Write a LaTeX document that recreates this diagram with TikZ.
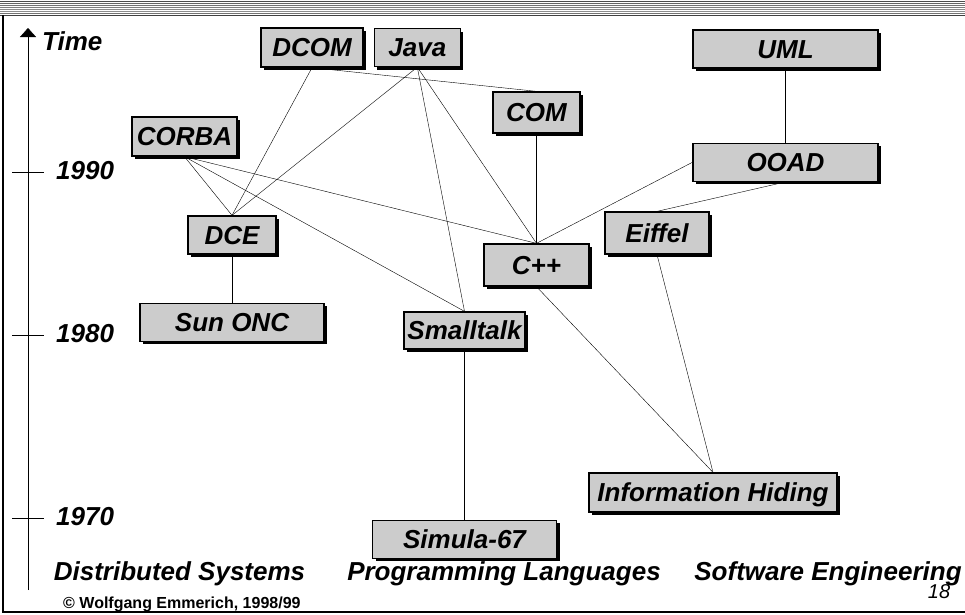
\documentclass[tikz,border=0pt]{standalone}
\usepackage{fontspec}
\setmainfont{Liberation Sans}
\usetikzlibrary{positioning,shadows,arrows.meta}
\tikzset{
x=1pt,
y=-1pt,
line width=1.2pt,
>={Triangle[width=16pt,length=9pt]},
every node/.style={inner sep=0pt},
}

\begin{document}
\begin{tikzpicture}
    [block/.style={draw, fill=black!20, line width=1.3pt,
        minimum height=38pt, text height=18.6pt, text depth=0pt,
        font=\bfseries\itshape\fontsize{26}{26}\selectfont,
        drop shadow={shadow xshift=3pt, shadow yshift=-3pt, fill=black, opacity=1}},
    heading/.style={anchor=base, font=\bfseries\itshape\fontsize{26}{26}\selectfont},
    yearlbl/.style={anchor=base west, font=\bfseries\itshape\fontsize{26}{26}\selectfont}
    ]

    \useasboundingbox (0,0) rectangle (965,614);

    \foreach \yy/\g in {1/70,3/60,5/55,7/50,9/45,11/45,13/55}
        \draw[black!\g, line width=0.9pt] (0,\yy) -- (965,\yy);
    \draw[black!75] (0,15) -- (965,15);
    \draw[line width=2pt] (3,15) -- (3,612) -- (965,612);

    \coordinate (axbot) at (28,590);
    \coordinate (axtop) at (28,28);
    \draw[->] (axbot) -- (axtop);
    \node [yearlbl] (time) at (42,50) {Time};

    \foreach \yr/\yy in {1990/172,1980/335,1970/518}
    {
        \draw (12,\yy) -- (44,\yy);
        \node [yearlbl] (y\yr) at (56,\yy+7) {\yr};
    }

    \node [block, minimum width=102pt, minimum height=39pt] (dcom) at (312,47.5) {DCOM};
    \node [block, minimum width=86pt] (java) [right=10pt of dcom] {Java};
    \node [block, minimum width=87pt, minimum height=41pt] (com) at (536.5,112.5) {COM};
    \node [block, minimum width=185pt] (uml) at (785.5,49) {UML};
    \node [block, minimum width=185pt] (ooad) [below=74pt of uml] {OOAD};
    \node [block, minimum width=105pt, minimum height=39pt] (corba) at (184.5,136.5) {CORBA};
    \node [block, minimum width=88pt] (dce) at (232,235) {DCE};
    \node [block, minimum width=184pt] (sunonc) [below=48pt of dce] {Sun ONC};
    \node [block, minimum width=121pt, minimum height=37pt] (smalltalk) at (464.5,330.5) {Smalltalk};
    \node [block, minimum width=105pt, minimum height=42pt] (cpp) at (536.5,265) {C++};
    \node [block, minimum width=104pt, minimum height=42pt] (eiffel) at (657,233) {Eiffel};
    \node [block, minimum width=248pt, minimum height=39pt] (infohiding) at (713,492.5) {Information Hiding};
    \node [block, minimum width=184pt] (simula) [below=170pt of smalltalk] {Simula-67};

    \draw (dcom.south) -- (dce.north);
    \draw (dcom.south) -- (com.north);
    \draw (java.south) -- (dce.north);
    \draw (java.south) -- (smalltalk.north);
    \draw (java.south) -- (cpp.north);
    \draw (corba.south) -- (dce.north);
    \draw (corba.south) -- (smalltalk.north);
    \draw (corba.south) -- (cpp.north);
    \draw (com.south) -- (cpp.north);
    \draw (uml.south) -- (ooad.north);
    \draw (ooad.west) -- (cpp.north);
    \draw (ooad.south) -- (eiffel.north);
    \draw (dce.south) -- (sunonc.north);
    \draw (cpp.south) -- (infohiding.north);
    \draw (eiffel.south) -- (infohiding.north);
    \draw (smalltalk.south) -- (simula.north);

    \node [heading] (distsys) at (179.5,580) {Distributed Systems};
    \node [heading] (proglang) at (504,580) {Programming Languages};
    \node [heading] (softeng) at (828,580) {Software Engineering};

    \node [anchor=base west, font=\bfseries\fontsize{16}{16}\selectfont] (copyr) at (63,608) {© Wolfgang Emmerich, 1998/99};
    \node [anchor=base, font=\itshape\fontsize{20}{20}\selectfont] (pagenum) at (939,598) {18};

\end{tikzpicture}
\end{document}
